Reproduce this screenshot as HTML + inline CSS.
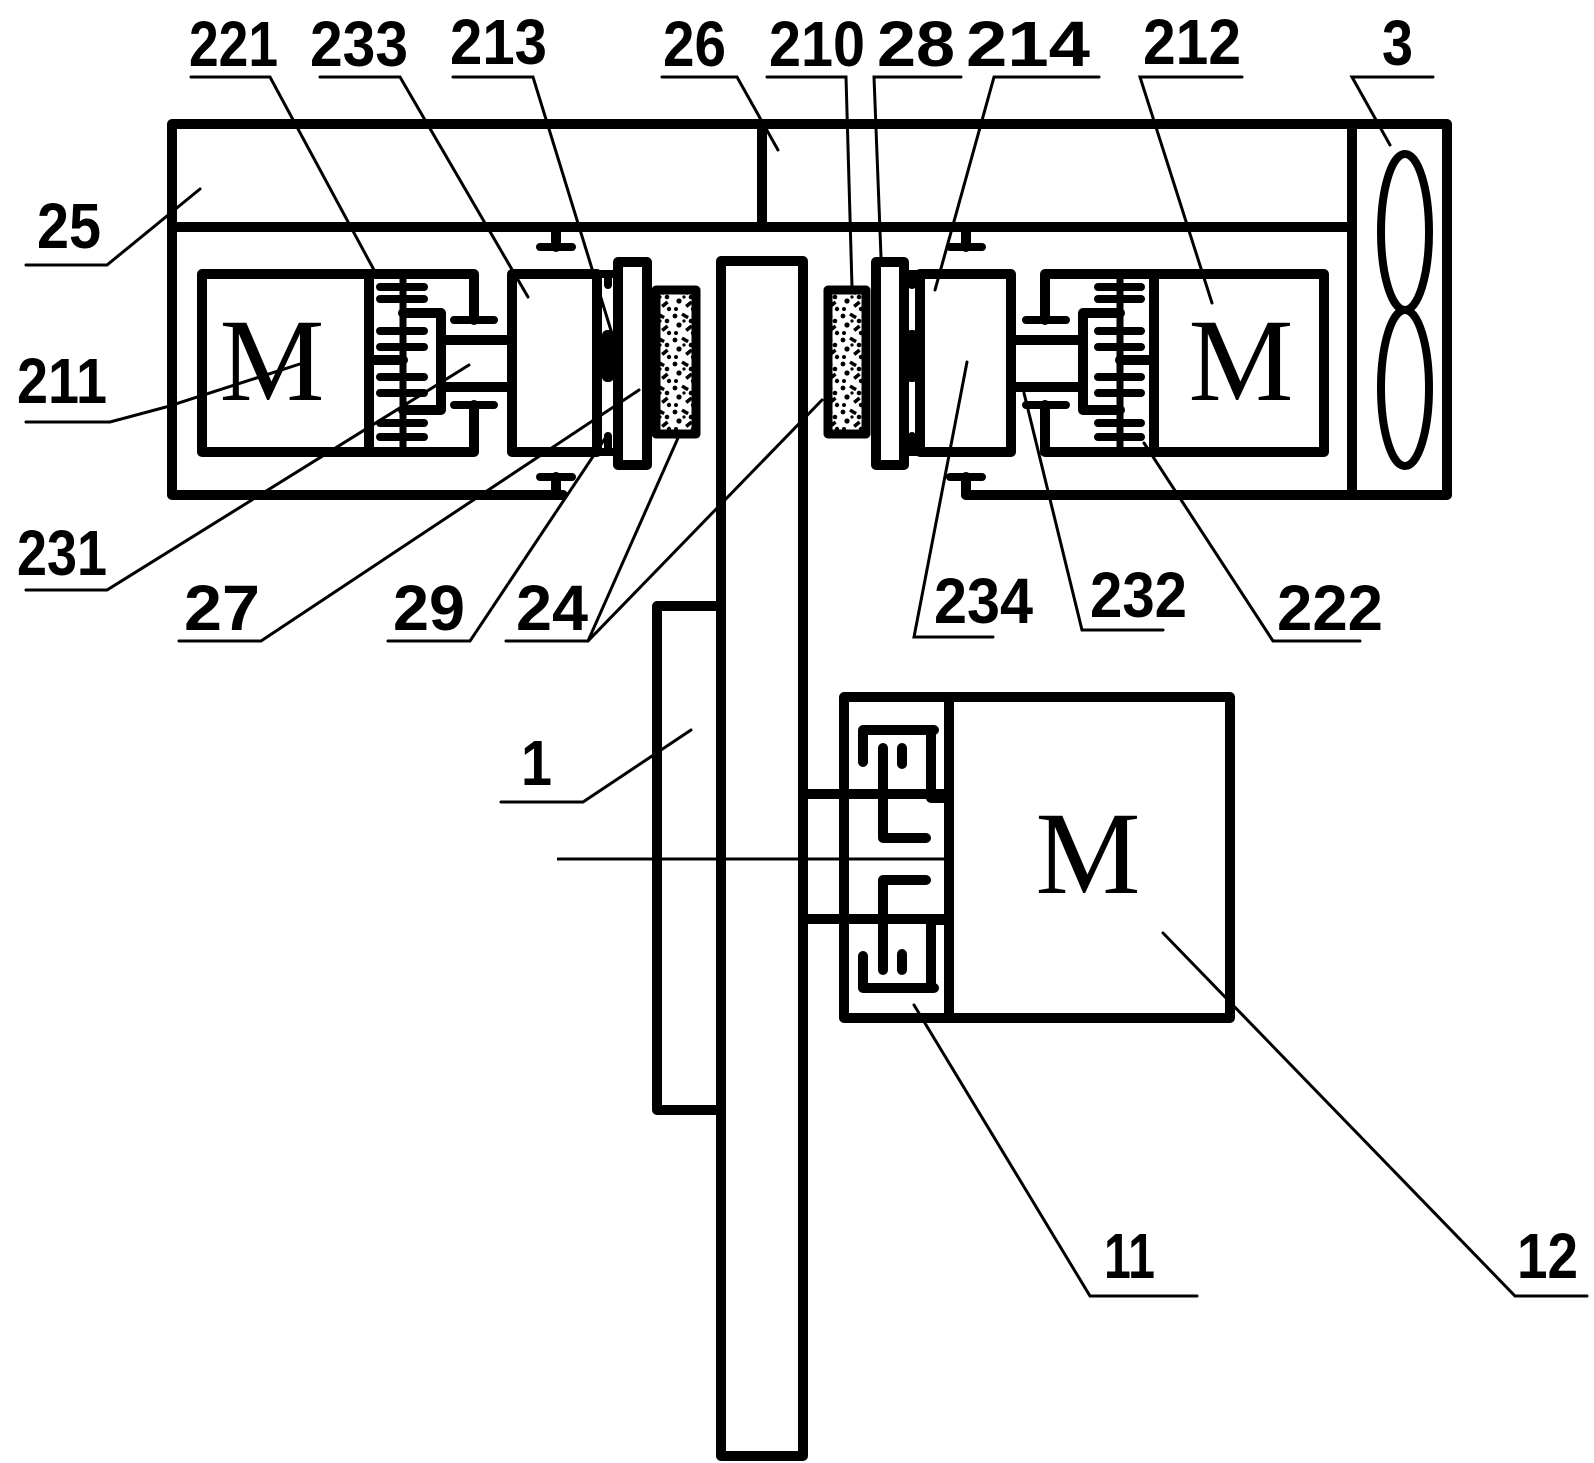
<!DOCTYPE html>
<html><head><meta charset="utf-8"><style>
html,body{margin:0;padding:0;background:#fff;width:1594px;height:1463px;overflow:hidden}
svg{display:block}
text{font-family:"Liberation Sans",sans-serif;font-weight:bold;font-size:64px;fill:#000}
</style></head><body>
<svg width="1594" height="1463" viewBox="0 0 1594 1463" xmlns="http://www.w3.org/2000/svg">
<defs>
<pattern id="sp" width="24" height="24" patternUnits="userSpaceOnUse">
<rect width="24" height="24" fill="#fff"/>
<circle cx="3" cy="4" r="2.4"/><rect x="10" y="2" width="7" height="3.5" transform="rotate(30 13 3)"/>
<circle cx="19" cy="9" r="2.3"/><circle cx="7" cy="13" r="2.6"/><rect x="13" y="15" width="7" height="3.5" transform="rotate(-40 16 16)"/>
<circle cx="4" cy="21" r="2"/><circle cx="21" cy="21" r="2.2"/><circle cx="12" cy="9" r="1.6"/>
</pattern>
</defs>
<g fill="none" stroke="#000" stroke-width="10" stroke-linejoin="round" stroke-linecap="round">
<path d="M563,495 L172,495 L172,124 L1447,124 L1447,495 L966,495"/>
<line x1="172" y1="227" x2="1352" y2="227"/>
<line x1="1352" y1="124" x2="1352" y2="495"/>
<line x1="762" y1="124" x2="762" y2="227"/>
<ellipse cx="1405" cy="232" rx="24" ry="78" stroke-width="8"/>
<ellipse cx="1405" cy="388" rx="24" ry="78" stroke-width="8"/>
<path d="M474,320 L474,274 L202,274 L202,452 L474,452 L474,405"/>
<line x1="369" y1="274" x2="369" y2="452"/>
<path d="M403,313 L441,313 L441,410 L403,410"/>
<line x1="369" y1="360" x2="403" y2="360"/>
<line x1="403" y1="274" x2="403" y2="452" stroke-width="7"/>
<line x1="441" y1="340" x2="512" y2="340"/>
<line x1="441" y1="387" x2="512" y2="387"/>
<rect x="512" y="274" width="85" height="178"/>
<line x1="608" y1="274" x2="608" y2="285" stroke-width="8"/>
<line x1="608" y1="436" x2="608" y2="452" stroke-width="8"/>
<line x1="597" y1="274" x2="613" y2="274" stroke-width="8"/>
<line x1="597" y1="452" x2="613" y2="452" stroke-width="8"/>
<rect x="618" y="262" width="29" height="203"/>
<rect x="656" y="290" width="40" height="144" fill="url(#sp)" stroke-width="9"/>
<rect x="828" y="290" width="38" height="144" fill="url(#sp)" stroke-width="9"/>
<rect x="876" y="262" width="28" height="203"/>
<rect x="920" y="274" width="91" height="178"/>
<line x1="910" y1="274" x2="920" y2="274" stroke-width="8"/>
<line x1="910" y1="452" x2="920" y2="452" stroke-width="8"/>
<line x1="912" y1="274" x2="912" y2="285" stroke-width="8"/>
<line x1="912" y1="436" x2="912" y2="452" stroke-width="8"/>
<line x1="1011" y1="340" x2="1081" y2="340"/>
<line x1="1011" y1="387" x2="1081" y2="387"/>
<path d="M1045,320 L1045,274 L1324,274 L1324,452 L1045,452 L1045,405"/>
<line x1="1154" y1="274" x2="1154" y2="452"/>
<path d="M1120,313 L1083,313 L1083,410 L1120,410"/>
<line x1="1120" y1="360" x2="1154" y2="360"/>
<line x1="1120" y1="274" x2="1120" y2="452" stroke-width="7"/>
<line x1="556" y1="227" x2="556" y2="247"/>
<line x1="556" y1="477" x2="556" y2="495"/>
<line x1="966" y1="227" x2="966" y2="247"/>
<line x1="966" y1="477" x2="966" y2="495"/>
<rect x="721" y="261" width="82" height="1195"/>
<path d="M721,606 L657,606 L657,1110 L721,1110"/>
<rect x="844" y="697" width="386" height="321"/>
<line x1="949" y1="697" x2="949" y2="1018"/>
<line x1="803" y1="794" x2="949" y2="794"/>
<line x1="803" y1="919" x2="949" y2="919"/>
<path d="M934,730 L863,730 L863,762"/>
<path d="M883,748 L883,838 L926,838"/>
<path d="M931,730 L931,798 L944,798"/>
<line x1="902" y1="748" x2="902" y2="764"/>
<path d="M934,988 L863,988 L863,956"/>
<path d="M883,970 L883,880 L926,880"/>
<path d="M931,988 L931,920 L944,920"/>
<line x1="902" y1="970" x2="902" y2="954"/>
</g>
<g fill="#000">
<rect x="602" y="330" width="12" height="52" rx="5"/>
<rect x="906" y="330" width="12" height="52" rx="5"/>
<line x1="557" y1="859" x2="949" y2="859" stroke="#000" stroke-width="3"/>
</g>
<g stroke="#000" stroke-width="8" stroke-linecap="round">
<line x1="380" y1="287" x2="424" y2="287"/><line x1="380" y1="299" x2="424" y2="299"/>
<line x1="380" y1="331" x2="424" y2="331"/><line x1="380" y1="347" x2="424" y2="347"/>
<line x1="380" y1="377" x2="424" y2="377"/><line x1="380" y1="393" x2="424" y2="393"/>
<line x1="380" y1="423" x2="424" y2="423"/><line x1="380" y1="437" x2="424" y2="437"/>
<line x1="1098" y1="287" x2="1141" y2="287"/><line x1="1098" y1="299" x2="1141" y2="299"/>
<line x1="1098" y1="331" x2="1141" y2="331"/><line x1="1098" y1="347" x2="1141" y2="347"/>
<line x1="1098" y1="377" x2="1141" y2="377"/><line x1="1098" y1="393" x2="1141" y2="393"/>
<line x1="1098" y1="423" x2="1141" y2="423"/><line x1="1098" y1="437" x2="1141" y2="437"/>
<line x1="454" y1="320" x2="494" y2="320"/><line x1="454" y1="405" x2="494" y2="405"/>
<line x1="1026" y1="320" x2="1066" y2="320"/><line x1="1026" y1="405" x2="1066" y2="405"/>
<line x1="540" y1="247" x2="572" y2="247"/><line x1="540" y1="477" x2="572" y2="477"/>
<line x1="950" y1="247" x2="982" y2="247"/><line x1="950" y1="477" x2="982" y2="477"/>
</g>
<g text-anchor="middle">
<text x="272" y="400" style="font-family:'Liberation Serif',serif;font-weight:normal;font-size:118px">M</text>
<text x="1241" y="400" style="font-family:'Liberation Serif',serif;font-weight:normal;font-size:118px">M</text>
<text x="1088" y="893" style="font-family:'Liberation Serif',serif;font-weight:normal;font-size:118px">M</text>
</g>
<g fill="none" stroke="#000" stroke-width="3" stroke-linecap="round">
<path d="M191,77 L270,77 L374,270"/>
<path d="M320,77 L400,77 L528,297"/>
<path d="M453,77 L533,77 L613,337"/>
<path d="M662,77 L737,77 L778,150"/>
<path d="M767,77 L846,77 L852,287"/>
<path d="M961,77 L874,77 L881,257"/>
<path d="M1099,77 L994,77 L935,290"/>
<path d="M1242,77 L1140,77 L1212,303"/>
<path d="M1433,77 L1352,77 L1390,145"/>
<path d="M26,265 L107,265 L200,189"/>
<path d="M26,422 L110,422 L166,407 L303,363"/>
<path d="M26,590 L107,590 L469,365"/>
<path d="M179,641 L261,641 L639,390"/>
<path d="M388,641 L470,641 L606,437"/>
<path d="M506,641 L588,641 L678,438"/>
<path d="M588,641 L822,400"/>
<path d="M993,637 L914,637 L967,362"/>
<path d="M1163,630 L1082,630 L1024,393"/>
<path d="M1360,641 L1273,641 L1144,443"/>
<path d="M501,802 L583,802 L691,730"/>
<path d="M1197,1296 L1090,1296 L914,1005"/>
<path d="M1587,1296 L1515,1296 L1163,933"/>
</g>
<g>
<text x="189" y="66" textLength="89" lengthAdjust="spacingAndGlyphs">221</text>
<text x="310" y="66" textLength="98" lengthAdjust="spacingAndGlyphs">233</text>
<text x="450" y="64" textLength="97" lengthAdjust="spacingAndGlyphs">213</text>
<text x="663" y="66" textLength="63" lengthAdjust="spacingAndGlyphs">26</text>
<text x="769" y="66" textLength="96" lengthAdjust="spacingAndGlyphs">210</text>
<text x="877" y="66" textLength="78" lengthAdjust="spacingAndGlyphs">28</text>
<text x="966" y="66" textLength="124" lengthAdjust="spacingAndGlyphs">214</text>
<text x="1143" y="64" textLength="98" lengthAdjust="spacingAndGlyphs">212</text>
<text x="1382" y="65" textLength="31" lengthAdjust="spacingAndGlyphs">3</text>
<text x="37" y="248" textLength="64" lengthAdjust="spacingAndGlyphs">25</text>
<text x="17" y="403" textLength="90" lengthAdjust="spacingAndGlyphs">211</text>
<text x="17" y="575" textLength="90" lengthAdjust="spacingAndGlyphs">231</text>
<text x="184" y="630" textLength="76" lengthAdjust="spacingAndGlyphs">27</text>
<text x="393" y="630" textLength="72" lengthAdjust="spacingAndGlyphs">29</text>
<text x="516" y="630" textLength="72" lengthAdjust="spacingAndGlyphs">24</text>
<text x="934" y="623" textLength="99" lengthAdjust="spacingAndGlyphs">234</text>
<text x="1090" y="617" textLength="97" lengthAdjust="spacingAndGlyphs">232</text>
<text x="1277" y="630" textLength="106" lengthAdjust="spacingAndGlyphs">222</text>
<text x="521" y="785" textLength="31" lengthAdjust="spacingAndGlyphs">1</text>
<text x="1104" y="1278" textLength="51" lengthAdjust="spacingAndGlyphs">11</text>
<text x="1517" y="1278" textLength="61" lengthAdjust="spacingAndGlyphs">12</text>
</g>
</svg>
</body></html>
